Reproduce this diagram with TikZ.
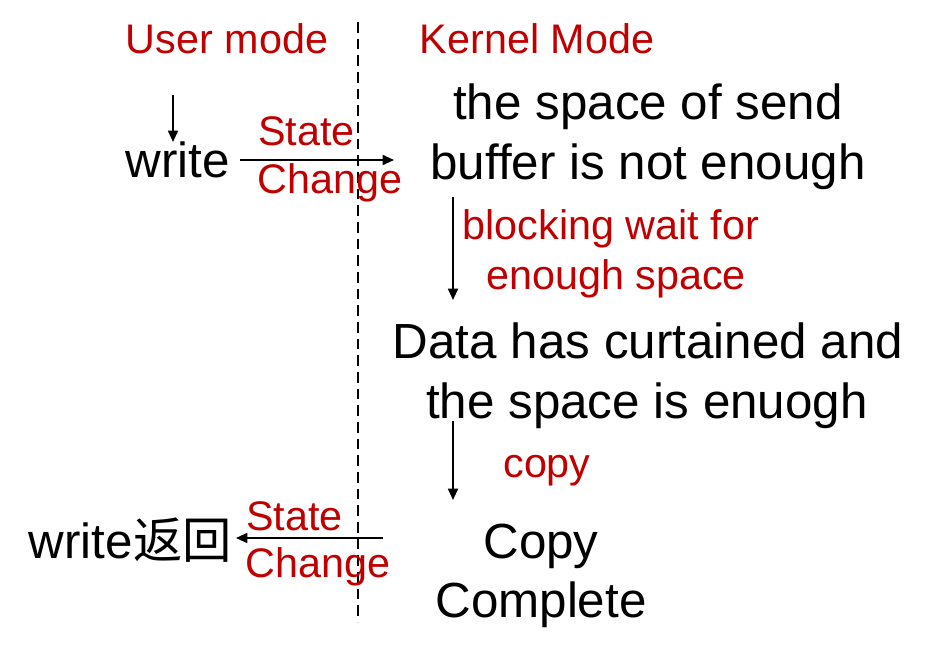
\documentclass[tikz,border=0pt]{standalone}
\usepackage{fontspec}
\setmainfont{Liberation Sans}
\newfontfamily\cjk{Noto Sans CJK SC}
\usetikzlibrary{arrows.meta}
\definecolor{redtxt}{HTML}{C00000}
\begin{document}
\begin{tikzpicture}[x=0.75pt,y=-0.75pt,
  blk/.style={font=\fontsize{37}{44}\selectfont, inner sep=0pt, anchor=base},
  redlbl/.style={font=\fontsize{31}{37.5}\selectfont, text=redtxt, inner sep=0pt, anchor=base},
  arr/.style={-{Triangle[length=8.5pt,width=7.5pt]}, line width=1.3pt},
  divider/.style={line width=1.4pt, dash pattern=on 8pt off 4.5pt}]
\useasboundingbox (0,0) rectangle (951,660);

% headers
\node[redlbl] (user) at (227,54) {User mode};
\node[redlbl] (kern) at (537,54) {Kernel Mode};

% divider
\coordinate (dtop) at (358,22);
\coordinate (dbot) at (358,622);
\draw[divider] (dtop) -- (dbot);

% user side top
\node[blk] (w1) at (178,178) {write};
\coordinate (s0) at (173,95);
\draw[arr] (s0) -- (s0 |- w1.north);

% state change 1
\coordinate (r0) at (240,160);
\coordinate (r1) at (394,160);
\draw[arr] (r0) -- (r1);
\node[redlbl, anchor=base west] (st1) at (258,146) {State};
\node[redlbl, anchor=base west] (ch1) at (257,194) {Change};

% kernel: buffer
\node[blk] (k1a) at (648,120) {the space of send};
\node[blk] (k1b) at (648,180) {buffer is not enough};

% arrow 1
\coordinate (a1s) at (453,197);
\coordinate (a1e) at (453,300);
\draw[arr] (a1s) -- (a1e);
\node[redlbl] (bw1) at (611,239) {blocking wait for};
\node[redlbl] (bw2) at (616,289) {enough space};

% data
\node[blk] (d1) at (648,358) {Data has curtained and};
\node[blk] (d2) at (647,418) {the space is enuogh};

% arrow 2
\coordinate (a2s) at (453,421);
\coordinate (a2e) at (453,500);
\draw[arr] (a2s) -- (a2e);
\node[redlbl] (cp) at (547,477) {copy};

% copy complete
\node[blk] (c1) at (541,558) {Copy};
\node[blk] (c2) at (541,617) {Complete};

% return
\node[blk, anchor=base east] (wret) at (232,558) {write{\cjk 返回}};
\coordinate (l0) at (383,538);
\draw[arr] (l0) -- ([xshift=3pt]wret.east |- l0) ;
\node[redlbl, anchor=base west] (st2) at (246,530) {State};
\node[redlbl, anchor=base west] (ch2) at (245,577) {Change};
\end{tikzpicture}
\end{document}
